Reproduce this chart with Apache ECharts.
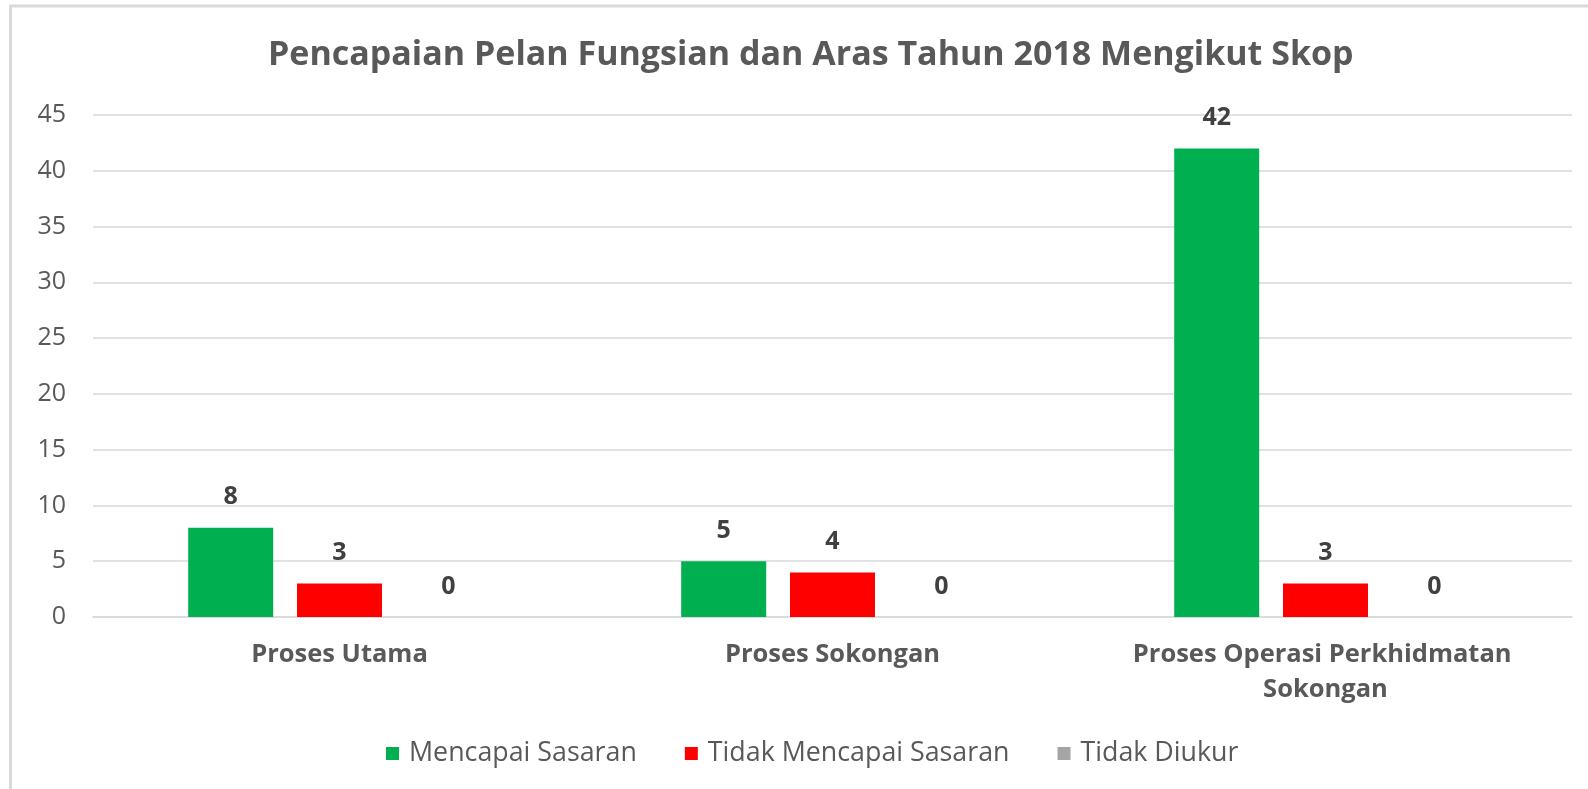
<!DOCTYPE html>
<html>
<head>
<meta charset="utf-8">
<script src="https://cdn.jsdelivr.net/npm/echarts@6/dist/echarts.min.js"></script>
<style>
html,body{margin:0;padding:0;background:#fff;}
#c{width:1588px;height:789px;}
</style>
</head>
<body>
<div id="c"></div>
<script>
var titleText = 'Pencapaian Pelan Fungsian dan Aras Tahun 2018 Mengikut Skop';
var categories = ['Proses Utama', 'Proses Sokongan', 'Proses Operasi Perkhidmatan Sokongan'];
var seriesNames = ['Mencapai Sasaran', 'Tidak Mencapai Sasaran', 'Tidak Diukur'];
var mencapai = [8, 5, 42];
var tidakMencapai = [3, 4, 3];
var tidakDiukur = [0, 0, 0];
var colors = ['#00B050', '#FF0000', '#A5A5A5'];

var chart = echarts.init(document.getElementById('c'));
var font = '"Open Sans", "Noto Sans", sans-serif';
function mk(name, data, color) {
  return {
    name: name, type: 'bar', data: data,
    barWidth: 85, barGap: '28%',
    itemStyle: { color: color },
    label: { show: true, position: 'top', distance: 18, color: '#404040',
      fontFamily: font, fontWeight: 'bold', fontSize: 25 }
  };
}
chart.setOption({
  animation: false,
  textStyle: { fontFamily: font },
  graphic: [{
    type: 'rect', shape: { x: 10.5, y: 6, width: 1600, height: 800 },
    style: { fill: null, stroke: '#D9D9D9', lineWidth: 3 }, silent: true, z: -1
  }],
  title: {
    text: titleText, left: 263, top: 33,
    textStyle: { fontFamily: font, fontWeight: 'bold', fontSize: 34, color: '#595959' }
  },
  legend: {
    data: seriesNames, left: 381, top: 735,
    itemWidth: 13, itemHeight: 13, itemGap: 48,
    icon: 'rect',
    textStyle: { fontFamily: font, fontSize: 26.8, color: '#595959', padding: [0, 0, 0, 5] }
  },
  grid: { left: 93, right: 16, top: 115, bottom: 172 },
  xAxis: {
    type: 'category', data: categories,
    axisLine: { lineStyle: { color: '#D9D9D9', width: 1.5 } },
    axisTick: { show: false },
    axisLabel: { interval: 0, margin: 20, color: '#595959', fontFamily: font,
      fontWeight: 'bold', fontSize: 25.5, lineHeight: 35, width: 440, overflow: 'break' }
  },
  yAxis: {
    type: 'value', min: 0, max: 45, interval: 5,
    axisLine: { show: false }, axisTick: { show: false },
    splitLine: { lineStyle: { color: '#D9D9D9', width: 1.5 } },
    axisLabel: { margin: 27, color: '#595959', fontFamily: font, fontSize: 25 }
  },
  series: [
    mk(seriesNames[0], mencapai, colors[0]),
    mk(seriesNames[1], tidakMencapai, colors[1]),
    mk(seriesNames[2], tidakDiukur, colors[2])
  ]
});
</script>
</body>
</html>
